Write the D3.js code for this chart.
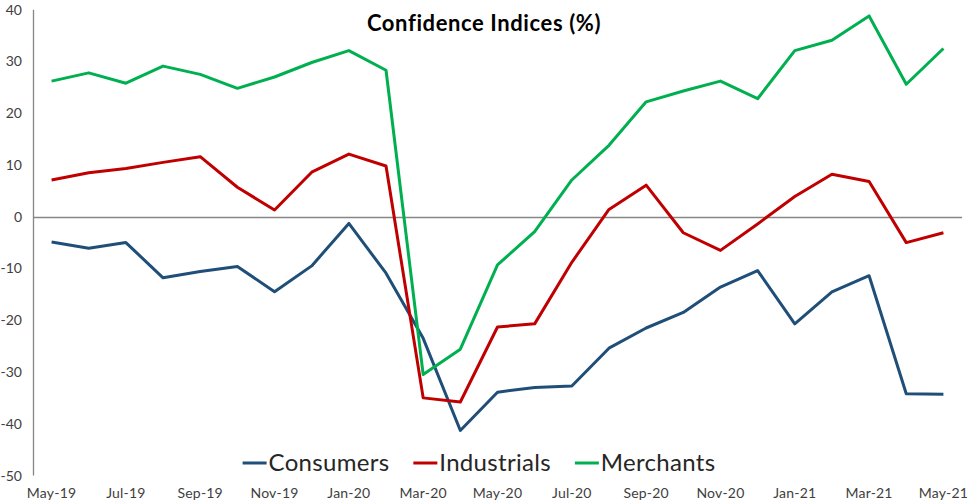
<!DOCTYPE html>
<html>
<head>
<meta charset="utf-8">
<script src="https://cdn.jsdelivr.net/npm/d3@7"></script>
<style>
  body { margin: 0; background: #fff; }
  text { font-family: "Century Gothic", "Lato", sans-serif; }
</style>
</head>
<body>
<svg id="chart" width="969" height="502"></svg>
<script>
var months = ["May-19","Jun-19","Jul-19","Aug-19","Sep-19","Oct-19","Nov-19","Dec-19",
    "Jan-20","Feb-20","Mar-20","Apr-20","May-20","Jun-20","Jul-20","Aug-20","Sep-20",
    "Oct-20","Nov-20","Dec-20","Jan-21","Feb-21","Mar-21","Apr-21","May-21"];

var consumers = [-4.9, -6.1, -5.0, -11.8, -10.6, -9.6, -14.5, -9.5, -1.3, -10.9, -23.5, -41.3,
    -33.9, -33.0, -32.7, -25.4, -21.5, -18.5, -13.6, -10.4, -20.7, -14.5, -11.4, -34.2, -34.3];
var industrials = [7.1, 8.5, 9.3, 10.5, 11.6, 5.7, 1.3, 8.6, 12.1, 9.8, -35.0, -35.8,
    -21.3, -20.7, -8.8, 1.4, 6.1, -3.1, -6.5, -1.4, 3.9, 8.2, 6.8, -5.0, -3.1];
var merchants = [26.2, 27.8, 25.8, 29.1, 27.5, 24.8, 27.0, 29.8, 32.1, 28.3, -30.5, -25.6,
    -9.3, -2.9, 7.1, 13.8, 22.2, 24.3, 26.2, 22.8, 32.1, 34.1, 38.8, 25.6, 32.5];

var yTicks = [40, 30, 20, 10, 0, -10, -20, -30, -40, -50];

var seriesNames = ["Consumers", "Industrials", "Merchants"];
var seriesColors = ["#1f4e79", "#c00000", "#00b050"];
var seriesData = [consumers, industrials, merchants];

var svg = d3.select("#chart");

var x = d3.scaleBand().domain(months).range([33, 962]).padding(0);
var y = d3.scaleLinear().domain([-50, 40]).range([475.5, 9.7]);

// y axis line, no ticks
svg.append("line")
    .attr("x1", 33.5).attr("x2", 33.5)
    .attr("y1", y(40)).attr("y2", y(-50))
    .style("stroke", "#868686").style("stroke-width", 1.3);

svg.selectAll(".ylab").data(yTicks).enter().append("text")
    .attr("class", "ylab")
    .attr("x", 22).attr("y", function(d) { return y(d) + 5; })
    .attr("text-anchor", "end")
    .style("font-size", "14px").style("fill", "#404040")
    .text(function(d) { return d; });

// horizontal axis crossing at zero
svg.append("line")
    .attr("x1", 33).attr("x2", 962)
    .attr("y1", Math.round(y(0)) + 0.5).attr("y2", Math.round(y(0)) + 0.5)
    .style("stroke", "#868686").style("stroke-width", 1.3);

// category labels, every second month, at the bottom
svg.selectAll(".xlab").data(months.filter(function(d, i) { return i % 2 === 0; }))
    .enter().append("text")
    .attr("class", "xlab")
    .attr("x", function(d) { return x(d) + x.bandwidth() / 2; })
    .attr("y", 498)
    .attr("text-anchor", "middle")
    .style("font-size", "14px").style("letter-spacing", "0.2px").style("fill", "#404040")
    .text(function(d) { return d; });

var line = d3.line()
    .x(function(d, i) { return x(months[i]) + x.bandwidth() / 2; })
    .y(function(d) { return y(d); });

seriesData.forEach(function(vals, k) {
    svg.append("path")
        .datum(vals)
        .attr("d", line)
        .style("fill", "none")
        .style("stroke", seriesColors[k])
        .style("stroke-width", 3)
        .style("stroke-linejoin", "round");
});

// title
svg.append("text")
    .attr("x", 484).attr("y", 31)
    .attr("text-anchor", "middle")
    .style("font-size", "22px").style("font-weight", "bold")
    .style("letter-spacing", "0.6px").style("fill", "#000")
    .text("Confidence Indices (%)");

// legend
var legend = svg.append("g");
var lx = 0;
seriesNames.forEach(function(name, k) {
    var g = legend.append("g").attr("transform", "translate(" + lx + ",0)");
    g.append("line")
        .attr("x1", 0).attr("x2", 24).attr("y1", 0).attr("y2", 0)
        .style("stroke", seriesColors[k]).style("stroke-width", 3);
    var t = g.append("text")
        .attr("x", 26).attr("y", 8)
        .style("font-size", "24px").style("letter-spacing", "0.3px").style("fill", "#262626")
        .text(name);
    lx += 26 + t.node().getComputedTextLength() + 24;
});
var legendW = lx - 24;
legend.attr("transform", "translate(" + (479 - legendW / 2) + ",463)");
</script>
</body>
</html>
